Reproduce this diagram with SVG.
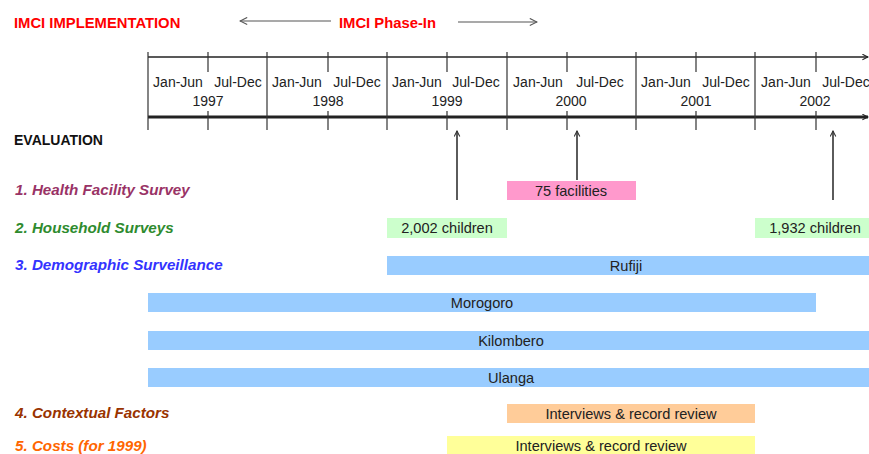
<svg xmlns="http://www.w3.org/2000/svg" width="869" height="454" viewBox="0 0 869 454">
<style>
text{font-family:"Liberation Sans",Arial,sans-serif;}
.hdr{font-size:14.8px;font-weight:bold;fill:#FF0000;}
.ev{font-size:14px;font-weight:bold;fill:#111;}
.lab{font-size:15.2px;font-weight:bold;font-style:italic;}
.tl{font-size:14px;fill:#222;text-anchor:middle;}
.bt{font-size:14.6px;fill:#222;text-anchor:middle;}
.axis{stroke:#222;fill:none;}
.tick{stroke:#333;stroke-width:1.2;fill:none;}
.conn{stroke:#333;stroke-width:1.6;fill:none;marker-end:url(#up);}
.ph{stroke:#555;stroke-width:1.2;fill:none;}
</style>
<defs>
<marker id="up" viewBox="0 0 10 10" refX="9" refY="5" markerWidth="7" markerHeight="7" orient="auto" markerUnits="userSpaceOnUse">
<path d="M1,1 L9,5 L1,9" fill="none" stroke="#333" stroke-width="1.5"/>
</marker>
<marker id="open" viewBox="0 0 10 10" refX="9" refY="5" markerWidth="9" markerHeight="9" orient="auto" markerUnits="userSpaceOnUse">
<path d="M1,1 L9,5 L1,9" fill="none" stroke="#555" stroke-width="1.2"/>
</marker>
<marker id="ax" viewBox="0 0 10 10" refX="9" refY="5" markerWidth="7" markerHeight="7" orient="auto" markerUnits="userSpaceOnUse">
<path d="M1,1 L9,5 L1,9" fill="none" stroke="#222" stroke-width="1.5"/>
</marker>
</defs>
<rect width="869" height="454" fill="#FFFFFF"/>

<g id="header">
<text class="hdr" x="14" y="28">IMCI IMPLEMENTATION</text>
<text class="hdr" x="339" y="28">IMCI Phase-In</text>
<line class="ph" x1="331" y1="21" x2="240" y2="21" marker-end="url(#open)"/>
<line class="ph" x1="458" y1="22" x2="537" y2="22" marker-end="url(#open)"/>
</g>

<g id="timeline">
<line class="axis" x1="148" y1="57" x2="868" y2="57" stroke-width="1.6" marker-end="url(#ax)"/>
<line class="axis" x1="148" y1="117" x2="868" y2="117" stroke-width="3" marker-end="url(#ax)"/>
<g class="tick">
<line x1="148" y1="52" x2="148" y2="130"/>
<line x1="267" y1="52" x2="267" y2="130"/>
<line x1="387" y1="52" x2="387" y2="130"/>
<line x1="507" y1="52" x2="507" y2="130"/>
<line x1="636" y1="52" x2="636" y2="130"/>
<line x1="755" y1="52" x2="755" y2="130"/>
<path d="M208,52V72M208,111V130M328,52V72M328,111V130M447,52V72M447,111V130M567,52V72M567,111V130M696,52V72M696,111V130M816,52V72M816,111V130"/>
</g>
<text class="tl" x="178" y="87">Jan-Jun</text><text class="tl" x="238" y="87">Jul-Dec</text><text class="tl" x="208" y="106">1997</text>
<text class="tl" x="297" y="87">Jan-Jun</text><text class="tl" x="357" y="87">Jul-Dec</text><text class="tl" x="328" y="106">1998</text>
<text class="tl" x="417" y="87">Jan-Jun</text><text class="tl" x="476" y="87">Jul-Dec</text><text class="tl" x="447" y="106">1999</text>
<text class="tl" x="538" y="87">Jan-Jun</text><text class="tl" x="600" y="87">Jul-Dec</text><text class="tl" x="571" y="106">2000</text>
<text class="tl" x="666" y="87">Jan-Jun</text><text class="tl" x="726" y="87">Jul-Dec</text><text class="tl" x="696" y="106">2001</text>
<text class="tl" x="786" y="87">Jan-Jun</text><text class="tl" x="846" y="87">Jul-Dec</text><text class="tl" x="815" y="106">2002</text>
</g>

<g id="evaluation"><text class="ev" x="14" y="145">EVALUATION</text></g>

<g id="labels">
<text class="lab" x="15" y="195" fill="#993366">1. Health Facility Survey</text>
<text class="lab" x="15" y="233" fill="#2E8B2E">2. Household Surveys</text>
<text class="lab" x="15" y="270" fill="#3333FF">3. Demographic Surveillance</text>
<text class="lab" x="15" y="418" fill="#993300">4. Contextual Factors</text>
<text class="lab" x="15" y="451" fill="#FF6600">5. Costs (for 1999)</text>
</g>

<g id="facilities"><rect x="507" y="181" width="129" height="19" fill="#FF99CC"/><text class="bt" x="571" y="196">75 facilities</text></g>
<g id="hh1999"><rect x="387" y="218" width="120" height="20" fill="#CCFFCC"/><text class="bt" x="447" y="233">2,002 children</text></g>
<g id="hh2002"><rect x="755" y="218" width="114" height="20" fill="#CCFFCC"/><text class="bt" x="815" y="233">1,932 children</text></g>
<g id="rufiji"><rect x="387" y="256" width="482" height="19" fill="#99CCFF"/><text class="bt" x="626" y="271">Rufiji</text></g>
<g id="morogoro"><rect x="148" y="293" width="668" height="19" fill="#99CCFF"/><text class="bt" x="482" y="308">Morogoro</text></g>
<g id="kilombero"><rect x="148" y="331" width="721" height="19" fill="#99CCFF"/><text class="bt" x="511" y="346">Kilombero</text></g>
<g id="ulanga"><rect x="148" y="368" width="721" height="19" fill="#99CCFF"/><text class="bt" x="511" y="383">Ulanga</text></g>
<g id="contextual"><rect x="507" y="404" width="248" height="19" fill="#FFCC99"/><text class="bt" x="631" y="419">Interviews &amp; record review</text></g>
<g id="costs"><rect x="447" y="436" width="308" height="19" fill="#FFFF99"/><text class="bt" x="601" y="451">Interviews &amp; record review</text></g>

<g id="connectors">
<line class="conn" x1="457" y1="200" x2="457" y2="131"/>
<line class="conn" x1="577" y1="180" x2="577" y2="131"/>
<line class="conn" x1="833" y1="200" x2="833" y2="131"/>
</g>
</svg>
